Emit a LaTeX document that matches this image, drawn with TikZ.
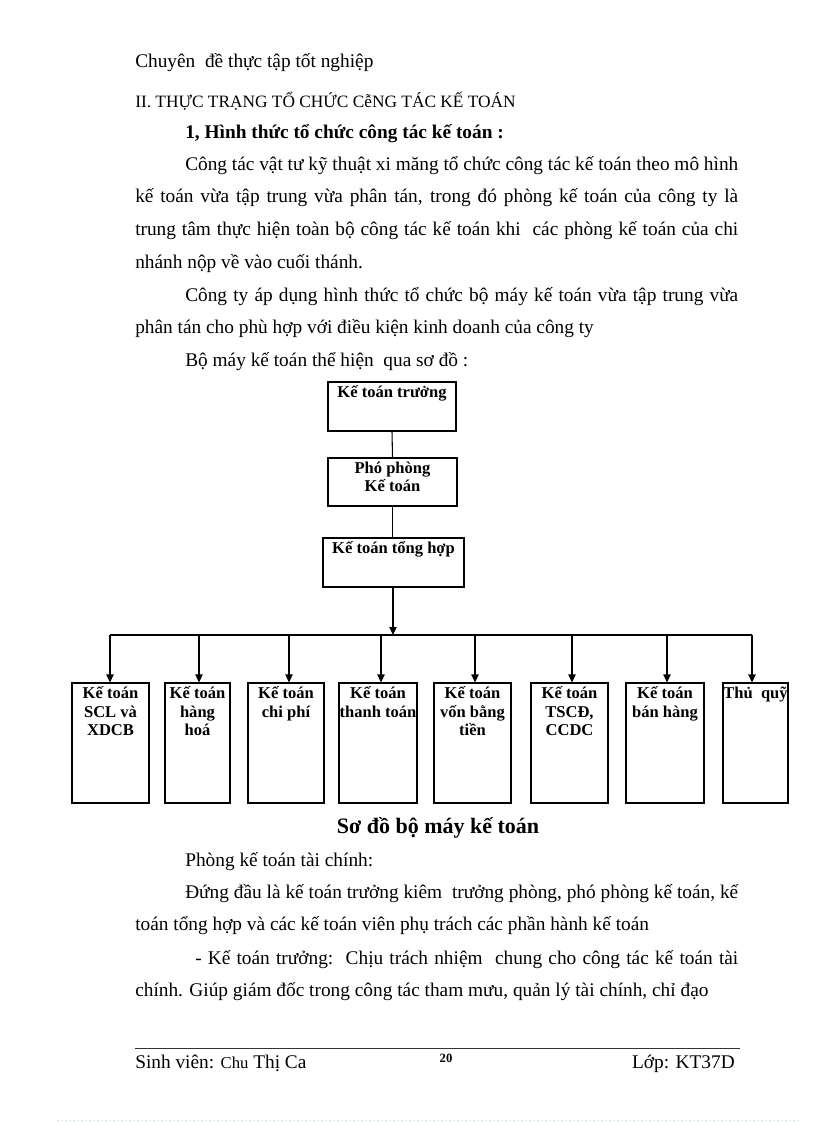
\documentclass[tikz,border=0pt]{standalone}
\usepackage{fontspec}
\setmainfont{Liberation Serif}
\usetikzlibrary{arrows.meta,fit}
\tikzset{
  body/.style={anchor=base west, inner sep=0pt, font=\fontsize{14.5}{16}\selectfont},
  box/.style={draw, line width=0.8pt, inner sep=0pt},
  boxlab/.style={anchor=north, align=center, inner sep=3pt, font=\bfseries\fontsize{12.4}{13.9}\selectfont},
  arr/.style={line width=0.8pt, -{Triangle[length=6pt,width=5.5pt]}},
  link/.style={line width=0.8pt},
}
\newcommand{\jl}[2]{\makebox[#1pt][s]{#2}}
\begin{document}
\begin{tikzpicture}[x=0.75pt,y=-0.75pt]
\fill[white] (0,0) rectangle (816,1123);
\path[use as bounding box] (0,0) rectangle (816,1123);

% header text
\node[body] (t0) at (135,68) {Chuyên\ \ đề thực tập tốt nghiệp};
\node[body, font=\fontsize{13}{15}\selectfont] (t1) at (135,108) {II. THỰC TRẠNG TỔ CHỨC CễNG TÁC KẾ TOÁN};
\node[body, font=\bfseries\fontsize{14.5}{16}\selectfont] (t2) at (185,139) {1, Hình thức tổ chức công tác kế toán :};
\node[body] (p1) at (185,171) {\jl{414.75}{Công tác vật tư kỹ thuật xi măng tổ chức công tác kế toán theo mô hình}};
\node[body] (p2) at (135,203) {\jl{452.25}{kế toán vừa tập trung vừa phân tán, trong đó phòng kế toán của công ty là}};
\node[body] (p3) at (135,236) {\jl{452.25}{trung tâm thực hiện toàn bộ công tác kế toán khi\ \ các phòng kế toán của chi}};
\node[body] (p4) at (135,268) {nhánh nộp về vào cuối thánh.};
\node[body] (p5) at (185,301) {\jl{414.75}{Công ty áp dụng hình thức tổ chức bộ máy kế toán vừa tập trung vừa}};
\node[body] (p6) at (135,333) {phân tán cho phù hợp với điều kiện kinh doanh của công ty};
\node[body] (p7) at (185,366) {Bộ máy kế toán thể hiện\ \ qua sơ đồ :};

% diagram top chain
\node[box, fit={(328,382) (456,431)}, label={[boxlab]north:Kế toán trưởng}] (k1) {};
\node[box, fit={(328,458) (457,506)}, label={[boxlab]north:Phó phòng\\Kế toán}] (k2) {};
\node[box, fit={(323,538) (464,587)}, label={[boxlab]north:Kế toán tổng hợp}] (k3) {};
\draw[link] (k1.south) -- (k2.north);
\draw[link] (k2.south) -- (k3.north -| k2.south);
\coordinate (bus) at (393,635);
\coordinate (busL) at (110,635);
\coordinate (busR) at (752,635);
\draw[arr] (k3.south -| bus) -- (bus);
\draw[link] (busL) -- (busR);

% bottom boxes
\node[box, fit={(72,683) (149,803)}, label={[boxlab]north:Kế toán\\SCL và\\XDCB}] (b1) {};
\node[box, fit={(165,683) (230,803)}, label={[boxlab]north:Kế toán\\hàng\\hoá}] (b2) {};
\node[box, fit={(248,683) (324,803)}, label={[boxlab]north:Kế toán\\chi phí}] (b3) {};
\node[box, fit={(339,683) (417,803)}, label={[boxlab]north:Kế toán\\thanh\ toán}] (b4) {};
\node[box, fit={(434,683) (511,803)}, label={[boxlab]north:Kế toán\\vốn bằng\\tiền}] (b5) {};
\node[box, fit={(531,683) (608,803)}, label={[boxlab]north:Kế toán\\TSCĐ,\\CCDC}] (b6) {};
\node[box, fit={(626,683) (704,803)}, label={[boxlab]north:Kế toán\\bán hàng}] (b7) {};
\node[box, fit={(723,683) (788,803)}, label={[boxlab]north:Thủ\ \ quỹ}] (b8) {};
\coordinate (d1) at (110,635);
\coordinate (d2) at (199,635);
\coordinate (d3) at (289,635);
\coordinate (d4) at (381,635);
\coordinate (d5) at (475,635);
\coordinate (d6) at (572,635);
\coordinate (d7) at (667,635);
\coordinate (d8) at (752,635);
\foreach \i in {1,...,8} { \draw[arr] (d\i) -- (d\i |- b\i.north); }

% caption and following text
\node[anchor=base, inner sep=0pt, font=\bfseries\fontsize{16.5}{18}\selectfont] (cap) at (438,833) {Sơ đồ bộ máy kế toán};
\node[body] (q1) at (185,866) {Phòng kế toán tài chính:};
\node[body] (q2) at (185,898) {\jl{414.75}{Đứng đầu là kế toán trưởng kiêm\ \ trưởng phòng, phó phòng kế toán, kế}};
\node[body] (q3) at (135,930) {toán tổng hợp và các kế toán viên phụ trách các phần hành kế toán};
\node[body] (q4) at (195,964) {\jl{407.25}{- Kế toán trưởng:\ \ Chịu trách nhiệm\ \ chung cho công tác kế toán tài}};
\node[body] (q5) at (135,996) {chính. Giúp giám đốc trong công tác tham mưu, quản lý tài chính, chỉ đạo};

% footer
\coordinate (fl) at (135,1048);
\coordinate (fr) at (740,1048);
\draw[line width=0.6pt, black!80] (fl) -- (fr);
\node[body] (f1) at (135,1068) {Sinh viên: {\fontsize{12.5}{14}\selectfont Chu} Thị Ca};
\node[anchor=base, inner sep=0pt, font=\bfseries\fontsize{9.5}{11}\selectfont] (f2) at (446,1062) {20};
\node[body, anchor=base east] (f3) at (735,1068) {Lớp: KT37D};
\coordinate (dl) at (58,1120);
\coordinate (dr) at (800,1120);
\draw[line width=0.6pt, green!25!gray!40, dash pattern=on 1pt off 2pt] (dl) -- (dr);
\end{tikzpicture}
\end{document}
